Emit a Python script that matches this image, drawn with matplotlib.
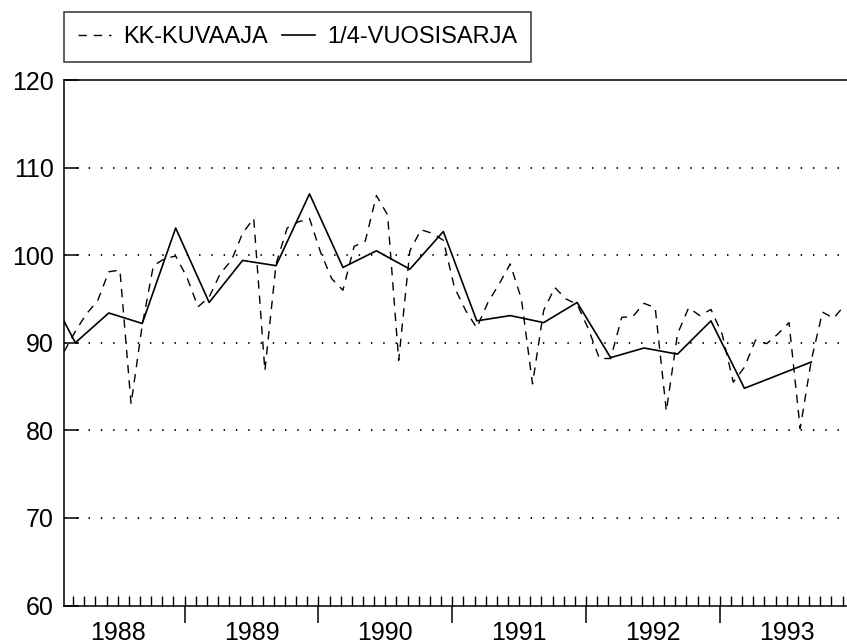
import numpy as np
import matplotlib.pyplot as plt

# monthly series (KK-KUVAAJA), first value ~ Feb 1988
kk_start = 1988 + 1.2 / 12
kk_values = [89.0, 91.3, 93.3, 94.8, 98.1, 98.3, 83.0, 92.0, 98.8, 99.6,
             99.9, 97.5, 94.1, 95.2, 97.9, 99.4, 102.5, 104.2, 86.8, 99.0,
             103.1, 103.8, 104.2, 100.3, 97.3, 96.0, 101.0, 101.6, 106.8, 104.6,
             88.0, 100.5, 102.9, 102.5, 101.7, 96.3, 93.7, 91.7, 94.6, 96.7,
             99.0, 95.0, 85.3, 93.7, 96.3, 95.0, 94.4, 91.6, 88.2, 88.2,
             92.9, 93.0, 94.5, 94.0, 82.2, 91.0, 94.0, 93.1, 93.8, 91.0,
             85.5, 87.2, 90.3, 89.9, 91.0, 92.3, 80.2, 88.0, 93.5, 92.8,
             94.3]

# quarterly series (1/4-VUOSISARJA)
q_start = 1988 + 2.2 / 12
q_index = [-1, 0, 1, 2, 3, 4, 5, 6, 7, 8, 9, 10, 11, 12, 13, 14, 15, 16,
           17, 18, 19, 20, 22]
q_values = [97.3, 90.0, 93.4, 92.2, 103.1, 94.6, 99.4, 98.8, 107.0, 98.6,
            100.5, 98.4, 102.7, 92.5, 93.1, 92.3, 94.6, 88.3, 89.4, 88.7,
            92.5, 84.8, 87.8]

years = [1988, 1989, 1990, 1991, 1992, 1993]
yticks = [60, 70, 80, 90, 100, 110, 120]

kk_x = kk_start + np.arange(len(kk_values)) / 12
q_x = q_start + np.array(q_index) * 0.25

plt.rcParams['font.family'] = ['Liberation Sans', 'DejaVu Sans']

fig = plt.figure(figsize=(8.47, 6.42), dpi=100)
ax = fig.add_axes([63.5/847, 1-605.5/642, 1-63.5/847, (605.5-80)/642])

ax.plot(kk_x, kk_values, color='black', lw=1.0, linestyle=(0, (6, 5)),
        label='KK-KUVAAJA')
ax.plot(q_x, q_values, color='black', lw=1.2, label='1/4-VUOSISARJA')

ax.set_yticks(yticks)
ax.tick_params(axis='y', direction='in', length=10.5, width=1.1,
               labelsize=18, pad=7)
for v in yticks[1:-1]:
    ax.axhline(v, color='black', lw=1.3, linestyle=(0, (0.8, 6)))

# year ticks below the axis, month ticks inside
ax.set_xticks(years[1:])
ax.set_xticklabels([])
ax.set_xticks(1988 + np.arange(2, 72) / 12, minor=True)
ax.xaxis.remove_overlapping_locs = False
ax.tick_params(axis='x', which='major', direction='out', length=12.5,
               width=1.1)
ax.tick_params(axis='x', which='minor', direction='in', length=7,
               width=1.0)
ax.set_xlim(1988.095, 1993.95)
ax.set_ylim(60, 120)
for y in years:
    ax.annotate(str(y), xy=(y + 0.5, 0), xycoords=('data', 'axes fraction'),
                xytext=(0, -11), textcoords='offset points',
                ha='center', va='top', fontsize=18)

ax.spines['right'].set_visible(False)
for s in ['left', 'top', 'bottom']:
    ax.spines[s].set_linewidth(1.1)

leg = fig.legend(loc='upper left', bbox_to_anchor=(64/847, 1-12/642),
                 ncol=2, frameon=True, fancybox=False, edgecolor='black',
                 fontsize=17, handlelength=1.4, handletextpad=0.5,
                 columnspacing=0.6, borderpad=0.6, borderaxespad=0)
leg.get_frame().set_linewidth(1.1)

plt.savefig('out.png', dpi=100)
